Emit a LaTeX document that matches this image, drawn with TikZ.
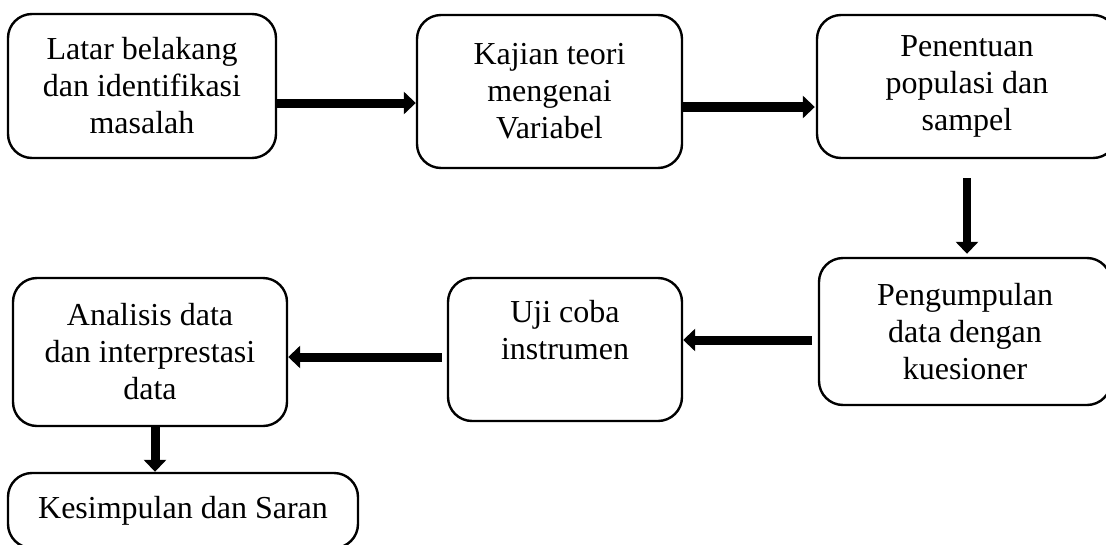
\documentclass[tikz,border=0pt]{standalone}
\usepackage{fontspec}
\setmainfont{Liberation Serif}
\usetikzlibrary{arrows.meta}
\begin{document}
\begin{tikzpicture}[x=1pt,y=-1pt,
  box/.style={draw=black, line width=2.4pt, rounded corners=24pt, rectangle,
    align=center, inner sep=0pt, font=\fontsize{32}{37}\selectfont, fill=white},
  arr/.style={line width=9pt, -{Triangle[length=12pt,width=22pt]}}]
\useasboundingbox (0,0) rectangle (1106,544);
\clip (0,0) rectangle (1106,544);
\fill[white] (0,0) rectangle (1106,544);
% boxes
\node[box, minimum width=268pt, minimum height=144pt] (b1) at (142,86) {Latar belakang\\dan identifikasi\\masalah};
\node[box, minimum width=265pt, minimum height=153pt] (b2) at (549.5,91.5) {Kajian teori\\mengenai\\Variabel};
\node[box, minimum width=300pt, minimum height=143pt] (b3) at (967,86.5) {Penentuan\\populasi dan\\sampel};
\node[box, minimum width=292pt, minimum height=147pt] (b4) at (965,331.5) {Pengumpulan\\data dengan\\kuesioner};
\node[box, minimum width=234pt, minimum height=143pt] (b5) at (565,349.5) {\raisebox{10pt}[0pt][0pt]{\begin{tabular}{@{}c@{}}Uji coba\\instrumen\end{tabular}}};
\node[box, minimum width=274pt, minimum height=148pt] (b6) at (150,352) {Analisis data\\dan interprestasi\\data};
\node[box, minimum width=350pt, minimum height=75pt] (b7) at (183,510.5) {Kesimpulan dan Saran};
% helper coordinates
\coordinate (y12) at (0,103);
\coordinate (y23) at (0,107);
\coordinate (x34) at (967,0);
\coordinate (y45) at (0,340);
\coordinate (y56) at (0,357);
\coordinate (x67) at (155,0);
% arrows
\draw[arr] (b1.east |- y12) -- (b2.west |- y12);
\draw[arr, line width=10pt] (b2.east |- y23) -- ([xshift=-1pt]b3.west |- y23);
\draw[arr, line width=8pt] ([yshift=-19pt]x34 |- b3.south) -- ([yshift=3pt]x34 |- b4.north);
\draw[arr] ([xshift=-6pt]b4.west |- y45) -- (b5.east |- y45);
\draw[arr] ([xshift=-5pt]b5.west |- y56) -- (b6.east |- y56);
\draw[arr] (x67 |- b6.south) -- (x67 |- b7.north);
\end{tikzpicture}
\end{document}
